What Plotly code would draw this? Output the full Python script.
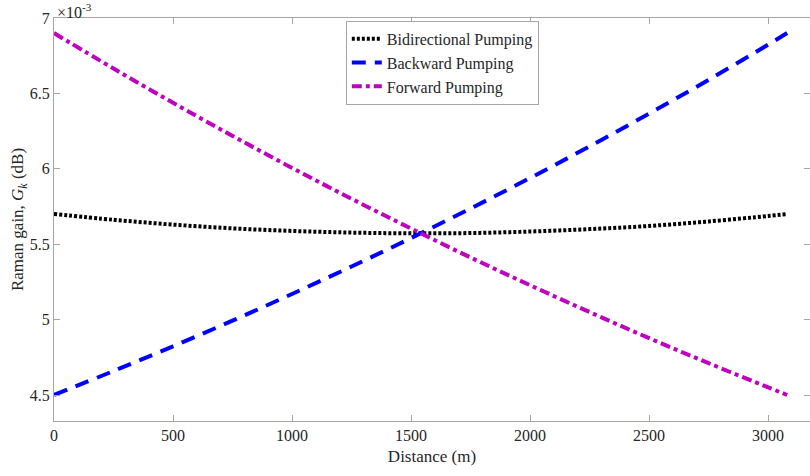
import plotly.graph_objects as go

distance = [0, 250, 500, 750, 1000, 1250, 1500, 1750, 2000, 2250, 2500, 2750, 3000, 3080]
bidirectional = [5.700, 5.662, 5.630, 5.605, 5.588, 5.577, 5.572, 5.574, 5.584, 5.600, 5.621, 5.651, 5.687, 5.700]
backward = [4.500, 4.659, 4.823, 4.993, 5.170, 5.352, 5.541, 5.737, 5.939, 6.149, 6.366, 6.590, 6.823, 6.900]
forward = [6.900, 6.665, 6.438, 6.218, 6.006, 5.801, 5.604, 5.412, 5.228, 5.050, 4.877, 4.711, 4.551, 4.500]
scale = 1e-3
y_ticks = [4.5, 5, 5.5, 6, 6.5, 7]
x_ticks = [0, 500, 1000, 1500, 2000, 2500, 3000]

font_family = "Liberation Serif, DejaVu Serif, serif"

fig = go.Figure()
fig.add_trace(go.Scatter(x=distance, y=[v * scale for v in bidirectional], mode="lines",
                         name="Bidirectional Pumping", line=dict(color="black", width=4, dash="3px,2px"),
                         line_shape="spline"))
fig.add_trace(go.Scatter(x=distance, y=[v * scale for v in backward], mode="lines",
                         name="Backward Pumping", line=dict(color="#0000ff", width=4, dash="14px,9px"),
                         line_shape="spline"))
fig.add_trace(go.Scatter(x=distance, y=[v * scale for v in forward], mode="lines",
                         name="Forward Pumping", line=dict(color="#bf00bf", width=4, dash="10px,4px,4px,4px"),
                         line_shape="spline"))

axis_color = "#a6a6a6"
fig.update_layout(
    width=810, height=476,
    margin=dict(l=54, r=0, t=18, b=55),
    plot_bgcolor="white", paper_bgcolor="white",
    font=dict(family=font_family, size=16, color="#262626"),
    showlegend=True,
    legend=dict(x=0.386, y=0.993, xanchor="left", yanchor="top",
                bgcolor="white", bordercolor="#a6a6a6", borderwidth=1,
                font=dict(family=font_family, size=16, color="#262626"),
                tracegroupgap=0, itemwidth=30),
    xaxis=dict(range=[0, 3176], tickvals=x_ticks, ticktext=[str(t) for t in x_ticks],
               showgrid=False, zeroline=False, showline=True, linecolor=axis_color, linewidth=1,
               mirror="ticks", ticks="inside", ticklen=6, tickcolor=axis_color,
               tickfont=dict(size=16),
               title=dict(text="Distance (m)", font=dict(size=17), standoff=6)),
    yaxis=dict(range=[4.3276e-3, 7e-3], tickvals=[v * scale for v in y_ticks],
               ticktext=[("%g" % t) for t in y_ticks],
               showgrid=False, zeroline=False, showline=True, linecolor=axis_color, linewidth=1,
               mirror="ticks", ticks="inside", ticklen=6, tickcolor=axis_color,
               tickfont=dict(size=16),
               title=dict(text="Raman gain, <i>G</i><sub><i>k</i></sub> (dB)", font=dict(size=17), standoff=1)),
)
fig.add_annotation(x=0, y=1, xref="paper", yref="paper", xanchor="left", yanchor="bottom",
                   text="×10<sup>-3</sup>", showarrow=False, xshift=1, yshift=-5,
                   font=dict(family=font_family, size=16, color="#262626"))

fig.write_html("out.html")
